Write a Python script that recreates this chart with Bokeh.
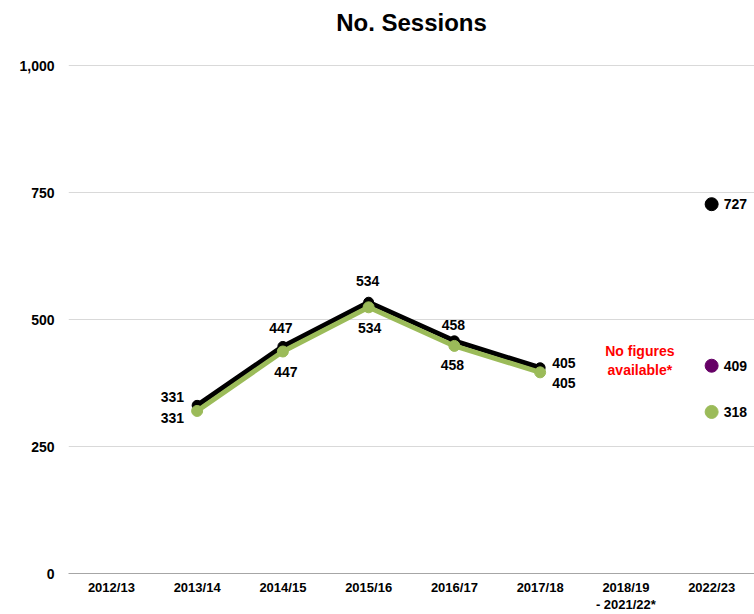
from bokeh.plotting import figure
from bokeh.models import Range1d, FixedTicker, NumeralTickFormatter, ColumnDataSource
from bokeh.core.properties import value
from bokeh.embed import file_html
from bokeh.resources import INLINE

# ---------------- data ----------------
title_text = "No. Sessions"
categories = ["2012/13", "2013/14", "2014/15", "2015/16", "2016/17", "2017/18",
              "2018/19\n- 2021/22*", "2022/23"]
y_ticks = [0, 250, 500, 750, 1000]

line_years = ["2013/14", "2014/15", "2015/16", "2016/17", "2017/18"]
black_values = [331, 447, 534, 458, 405]
green_values = [320, 437, 524, 448, 396]      # as drawn in the picture
green_labels = ["331", "447", "534", "458", "405"]

latest_year = "2022/23"
latest_black = 727
latest_purple = 409
latest_green = 318

note_year = "2018/19\n- 2021/22*"
note_text = "No figures\navailable*"

# ---------------- style ----------------
FONT = "Liberation Sans"
BLACK = "#000000"
GREEN = "#9bbb59"
PURPLE = "#660066"
RED = "#ff0000"

PX_PER_UNIT = 508 / 1000      # vertical scale of the frame
TOP_PAD_PX = 27               # empty frame space above the top gridline
note_y = 419

black_align = ["right", "center", "center", "center", "left"]
black_dx = [-13, -2, -1, -1, 12]
black_dy = [-8, -18, -21, -16, -5]
green_align = ["right", "center", "center", "center", "left"]
green_dx = [-13, 3, 1, -2, 12]
green_dy = [7, 20, 21, 19, 11]

p = figure(width=754, height=614, output_backend="svg", toolbar_location=None,
           x_range=Range1d(-0.5, len(categories) - 0.5),
           y_range=Range1d(0, y_ticks[-1] + TOP_PAD_PX / PX_PER_UNIT),
           min_border_left=68, min_border_right=0,
           min_border_top=38, min_border_bottom=41)
p.outline_line_color = None
p.background_fill_color = "white"

p.title.text = title_text
p.title.align = "center"
p.title.vertical_align = "bottom"
p.title.standoff = 6
p.title.text_font = FONT
p.title.text_font_size = "24px"
p.title.text_font_style = "bold"
p.title.text_color = "#000000"

# axes
p.xaxis.ticker = FixedTicker(ticks=list(range(len(categories))))
p.xaxis.major_label_overrides = {i: c for i, c in enumerate(categories)}
p.xaxis.axis_line_color = "#a6a6a6"
p.xaxis.axis_line_width = 1
p.xaxis.major_tick_line_color = None
p.xaxis.minor_tick_line_color = None
p.xaxis.major_label_standoff = 0
p.xaxis.major_label_text_line_height = 1.15
p.xaxis.major_label_text_font = FONT
p.xaxis.major_label_text_font_size = "13px"
p.xaxis.major_label_text_font_style = "bold"
p.xaxis.major_label_text_color = "#000000"

p.yaxis.ticker = FixedTicker(ticks=y_ticks)
p.yaxis.formatter = NumeralTickFormatter(format="0,0")
p.yaxis.axis_line_color = None
p.yaxis.major_tick_line_color = None
p.yaxis.minor_tick_line_color = None
p.yaxis.major_label_standoff = 8
p.yaxis.major_label_text_font = FONT
p.yaxis.major_label_text_font_size = "14px"
p.yaxis.major_label_text_font_style = "bold"
p.yaxis.major_label_text_color = "#000000"

p.xgrid.grid_line_color = None
p.ygrid.ticker = FixedTicker(ticks=y_ticks)
p.ygrid.grid_line_color = "#d9d9d9"
p.ygrid.grid_line_width = 1

# lines
bx = [categories.index(y) for y in line_years]
p.line(bx, black_values, line_color=BLACK, line_width=5, line_join="round")
p.scatter(bx, black_values, size=10, color=BLACK)
p.line(bx, green_values, line_color=GREEN, line_width=5, line_join="round")
p.scatter(bx, green_values, size=11, color=GREEN)

# labels
bsrc = ColumnDataSource(dict(x=bx, y=black_values, t=[str(v) for v in black_values],
                             a=black_align, dx=black_dx, dy=black_dy))
p.text(x="x", y="y", text="t", text_align="a", x_offset="dx", y_offset="dy",
       text_baseline="middle", text_font=value(FONT), text_font_size="14px",
       text_font_style="bold", text_color="#000000", source=bsrc)
gsrc = ColumnDataSource(dict(x=bx, y=green_values, t=green_labels,
                             a=green_align, dx=green_dx, dy=green_dy))
p.text(x="x", y="y", text="t", text_align="a", x_offset="dx", y_offset="dy",
       text_baseline="middle", text_font=value(FONT), text_font_size="14px",
       text_font_style="bold", text_color="#000000", source=gsrc)

# latest year
lx = categories.index(latest_year)
lvals = [latest_black, latest_purple, latest_green]
lsrc = ColumnDataSource(dict(x=[lx] * 3, y=lvals, t=[str(v) for v in lvals],
                             c=[BLACK, PURPLE, GREEN]))
p.scatter(x="x", y="y", size=13, color="c", source=lsrc)
p.text(x="x", y="y", text="t", x_offset=12, text_align="left", text_baseline="middle",
       text_font=value(FONT), text_font_size="14px", text_font_style="bold",
       text_color="#000000", source=lsrc)

# note
p.text(x=[categories.index(note_year)], y=[note_y], text=[note_text], x_offset=14,
       text_align="center", text_baseline="middle", text_font=value(FONT),
       text_font_size="14px", text_font_style="bold", text_color=RED)

open("out.html", "w").write(file_html(p, INLINE))
